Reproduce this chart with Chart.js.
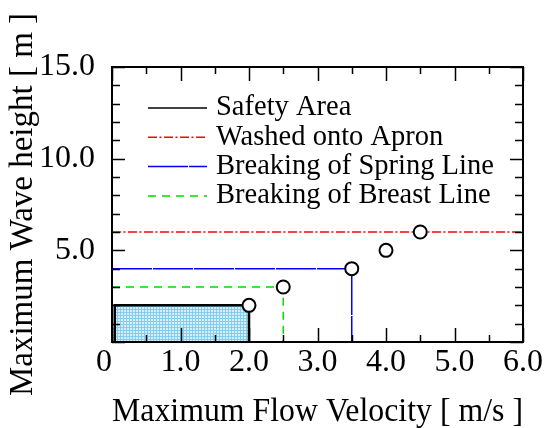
<!DOCTYPE html>
<html>
<head>
<meta charset="utf-8">
<script src="https://cdn.jsdelivr.net/npm/chart.js@4/dist/chart.umd.min.js"></script>
<style>
  html, body { margin: 0; padding: 0; background: #fff; }
  #wrap { width: 553px; height: 428px; }
</style>
</head>
<body>
<div id="wrap"><canvas id="myChart" width="553" height="428"></canvas></div>
<script>
'use strict'
// values
const obsX = [2.0, 2.5, 3.5, 4.0, 4.5];
const obsY = [2.0, 3.0, 4.0, 5.0, 6.0];

const safetyX = [0.04, 0.04, 2.0, 2.0];
const safetyY = [0, 2.0, 2.0, 0];

const apronX = [0, 6.0];
const apronY = [6.0, 6.0];

const springX = [0, 3.5, 3.5];
const springY = [4.0, 4.0, 0];

const breastX = [0, 2.5, 2.5];
const breastY = [3.0, 3.0, 0];

const xTicks = [0, 1, 2, 3, 4, 5, 6];
const yTicks = [5, 10, 15];

const FONT = "'Liberation Serif', 'Times New Roman', serif";

function pts(xs, ys) {
    return xs.map((x, i) => ({x: x, y: ys[i]}));
}

function hatch() {
    let c = document.createElement('canvas');
    c.width = 3; c.height = 3;
    let g = c.getContext('2d');
    g.fillStyle = '#d6f0fb';
    g.fillRect(0, 0, 3, 3);
    g.fillStyle = '#86ccee';
    g.fillRect(0, 0, 3, 1);
    g.fillRect(0, 0, 1, 3);
    return g.createPattern(c, 'repeat');
}

const ctx = document.getElementById('myChart').getContext('2d');

// frame + inward ticks on all four sides
const framePlugin = {
    id: 'frame',
    afterDatasetsDraw(chart) {
        const a = chart.chartArea, c = chart.ctx;
        const xs = chart.scales.x, ys = chart.scales.y;
        c.save();
        c.strokeStyle = '#000';
        c.lineWidth = 1.5;
        c.beginPath();
        for (let t of xs.ticks) {
            let px = Math.round(xs.getPixelForValue(t.value)) + 0.5;
            let len = (t.value % 1 === 0) ? 14 : 7;
            c.moveTo(px, a.bottom); c.lineTo(px, a.bottom - len);
            c.moveTo(px, a.top); c.lineTo(px, a.top + len);
        }
        for (let t of ys.ticks) {
            let py = Math.round(ys.getPixelForValue(t.value)) + 0.5;
            let len = (t.value % 5 === 0) ? 13 : 8;
            c.moveTo(a.left, py); c.lineTo(a.left + len, py);
            c.moveTo(a.right, py); c.lineTo(a.right - len, py);
        }
        c.stroke();
        c.lineWidth = 2;
        c.strokeRect(a.left, a.top, a.right - a.left, a.bottom - a.top);
        c.restore();
    }
};

// legend drawn inside the plot, one column
const legendPlugin = {
    id: 'insideLegend',
    afterDraw(chart) {
        const a = chart.chartArea, c = chart.ctx;
        let x0 = a.left + 36, x1 = a.left + 95, tx = a.left + 104;
        let y = a.top + 41;
        c.save();
        c.font = '28.5px ' + FONT;
        c.textBaseline = 'middle';
        c.fillStyle = '#000';
        for (let ds of chart.data.datasets) {
            if (!ds.inLegend) continue;
            c.beginPath();
            c.setLineDash(ds.borderDash || []);
            c.strokeStyle = ds.borderColor;
            c.lineWidth = 1.5;
            c.moveTo(x0, y); c.lineTo(x1, y);
            c.stroke();
            c.setLineDash([]);
            c.fillText(ds.label, tx, y);
            y += 29.3;
        }
        c.restore();
    }
};

function lineSet(label, xs, ys, color, dash) {
    return {
        label: label,
        data: pts(xs, ys),
        showLine: true,
        borderColor: color,
        borderWidth: 1.5,
        borderDash: dash,
        pointRadius: 0,
        fill: false,
        inLegend: true,
        clip: false
    };
}

const safety = lineSet('Safety Area', safetyX, safetyY, '#000', []);
safety.borderWidth = 2.5;
safety.fill = 'origin';
safety.backgroundColor = hatch();

const myChart = new Chart(ctx, {
    type: 'scatter',
    data: {
        datasets: [
            {
                label: 'data',
                data: pts(obsX, obsY),
                pointRadius: 6.5,
                pointBorderWidth: 2,
                pointBackgroundColor: '#fff',
                pointBorderColor: '#000',
                showLine: false,
                clip: false
            },
            safety,
            lineSet('Washed onto Apron', apronX, apronY, '#ff0000', [9, 2.5, 2, 2.5]),
            lineSet('Breaking of Spring Line', springX, springY, '#0000ff', [40, 1]),
            lineSet('Breaking of Breast Line', breastX, breastY, '#00dd00', [8, 6])
        ]
    },
    options: {
        responsive: false,
        animation: false,
        layout: {padding: {top: 67, right: 30, left: 0, bottom: 0}},
        plugins: {legend: {display: false}, tooltip: {enabled: false}},
        scales: {
            x: {
                type: 'linear', min: 0, max: 6,
                grid: {display: false}, border: {display: false},
                ticks: {
                    stepSize: 0.5, autoSkip: false, maxRotation: 0, padding: -7,
                    color: '#000', font: {family: FONT, size: 32},
                    // the "0" sits a little left of the corner in the original
                    callback: (v) => xTicks.includes(v) ? (v === 0 ? '0\u00a0\u00a0' : v.toFixed(1)) : ''
                },
                title: {
                    display: true, text: 'Maximum Flow Velocity [ m/s ]',
                    color: '#000', font: {family: FONT, size: 33, lineHeight: 0.95}, padding: 0
                },
                afterFit(scale) { scale.height = 86; }
            },
            y: {
                type: 'linear', min: 0, max: 15,
                grid: {display: false}, border: {display: false},
                ticks: {
                    stepSize: 1, autoSkip: false, padding: 9,
                    color: '#000', font: {family: FONT, size: 32},
                    callback: (v) => yTicks.includes(v) ? v.toFixed(1) : ''
                },
                title: {
                    display: true, text: 'Maximum Wave height [ m ]',
                    color: '#000', font: {family: FONT, size: 33, lineHeight: 1.4}, padding: 0
                },
                afterFit(scale) { scale.width = 112; }
            }
        }
    },
    plugins: [framePlugin, legendPlugin]
});
</script>
</body>
</html>
